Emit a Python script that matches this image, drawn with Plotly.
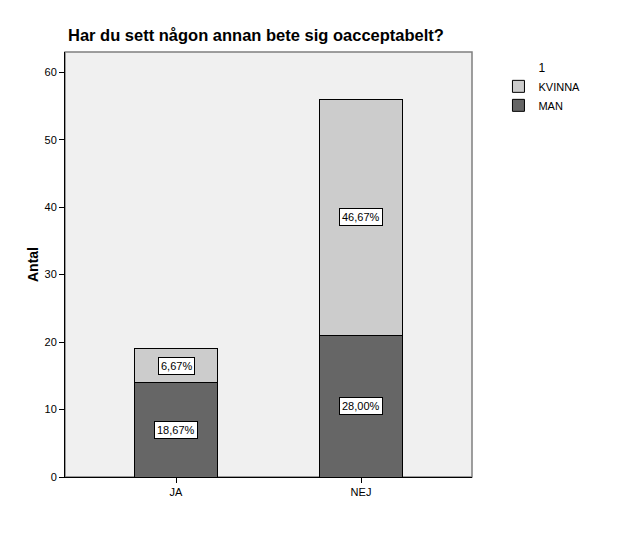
import plotly.graph_objects as go

# Данные
categories = ["JA", "NEJ"]
man = [14, 21]
kvinna = [5, 35]
man_labels = ["18,67%", "28,00%"]
kvinna_labels = ["6,67%", "46,67%"]

fig = go.Figure()

fig.add_trace(go.Bar(
    x=categories, y=man, name="MAN",
    marker=dict(color="#666666", line=dict(color="black", width=1)),
    width=0.444
))
fig.add_trace(go.Bar(
    x=categories, y=kvinna, name="KVINNA",
    marker=dict(color="#cccccc", line=dict(color="black", width=1)),
    width=0.444
))

# Подписи процентов в центре сегментов
annotations = []
for i, cat in enumerate(categories):
    annotations.append(dict(x=cat, y=man[i] / 2, text=man_labels[i]))
    annotations.append(dict(x=cat, y=man[i] + kvinna[i] / 2, text=kvinna_labels[i]))
for a in annotations:
    a.update(showarrow=False, xref="x", yref="y",
             font=dict(size=11, color="black"),
             bgcolor="white", bordercolor="black", borderwidth=1, borderpad=2)

fig.update_layout(
    width=631, height=546,
    barmode="stack",
    paper_bgcolor="white",
    plot_bgcolor="#f0f0f0",
    font=dict(family="Liberation Sans, Arial, sans-serif", size=11, color="black"),
    margin=dict(l=57, r=167, t=44, b=77),
    title=dict(text="<b>Har du sett någon annan bete sig oacceptabelt?</b>",
               x=60 / 631, xanchor="left", y=1 - 27 / 546, yanchor="middle",
               font=dict(size=16.5, color="black")),
    xaxis=dict(range=[-0.6, 1.6], showgrid=False, showline=True, linecolor="black",
               linewidth=1, ticks="outside", ticklen=5, tickcolor="black"),
    yaxis=dict(range=[0, 63], dtick=10, showgrid=False, zeroline=False, showline=True,
               linecolor="black", linewidth=1, ticks="outside", ticklen=5,
               tickcolor="black",
               title=dict(text="<b>Antal</b>", font=dict(size=14), standoff=2)),
    legend=dict(x=1.065, y=0.99, xanchor="left", yanchor="top",
                traceorder="reversed",
                title=dict(text="1", side="top center",
                           font=dict(size=12, color="black")),
                font=dict(size=11, color="black"), itemwidth=30, tracegroupgap=0),
    annotations=annotations,
    shapes=[dict(type="rect", xref="paper", yref="paper", x0=0, x1=1, y0=0, y1=1,
                 line=dict(color="#7f7f7f", width=1.5), layer="below")],
)

fig.write_html("out.html")
